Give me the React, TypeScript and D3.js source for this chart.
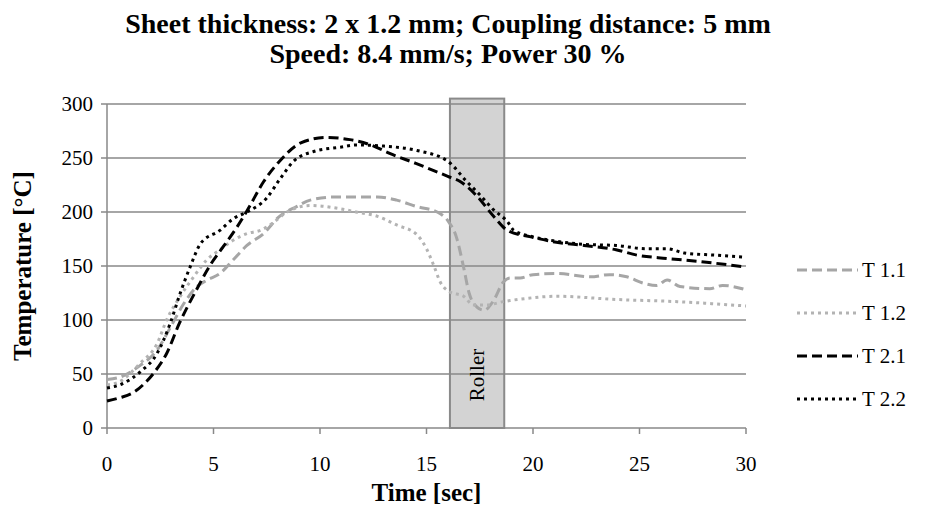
import React from 'react'
import * as d3 from 'd3'

// series: time [sec] and temperature [°C]
const t11 = [0, 0.6, 1.56, 2.35, 3, 3.6, 4.23, 4.7, 5.3, 5.94, 6.57, 7.35, 8.1, 8.9, 9.54, 10.8, 11.7, 12.7, 13.6, 14.55, 15.5, 16, 16.4, 16.74, 17, 17.37, 17.7, 18.15, 18.6, 18.93, 19.4, 20, 21.1, 22.7, 23.6, 24.4, 25.2, 25.8, 26.3, 26.9, 28.3, 28.9, 30]
const v11 = [45, 47, 58, 72, 94, 115, 131, 137, 143, 156, 169, 180, 196, 205, 211, 214, 214, 214, 211, 205, 200, 192, 177, 149, 125, 112, 109, 118, 135, 139, 139, 142, 143, 140, 142, 140, 134, 132, 137, 131, 129, 132, 128]

const t12 = [0, 0.5, 1.56, 2.35, 2.8, 3.44, 4.07, 4.7, 5.3, 5.94, 6.57, 7.2, 7.8, 8.45, 9.54, 10.95, 11.7, 12.7, 13.6, 14.55, 15, 15.33, 15.65, 16.1, 16.74, 17.2, 17.84, 18.6, 19.7, 21.1, 23.9, 26.75, 30]
const v12 = [40, 42, 60, 78, 100, 122, 140, 156, 165, 174, 180, 183, 190, 200, 206, 203, 200, 196, 188, 179, 166, 151, 135, 126, 122, 114, 114, 117, 120, 122, 119, 117, 113]

const t21 = [0, 0.6, 1.25, 1.8, 2.2, 2.8, 3.4, 4.2, 4.85, 5.5, 6.1, 6.6, 7.35, 8.1, 9.1, 10.3, 11.4, 12.4, 13.3, 14.5, 16, 16.6, 17.4, 18.15, 18.8, 19.9, 21.1, 22.4, 23.9, 24.9, 26.3, 27.9, 30]
const v21 = [25, 28, 33, 42, 51, 69, 97, 128, 151, 169, 186, 202, 228, 247, 264, 269, 267, 262, 254, 245, 233, 228, 214, 196, 183, 177, 172, 169, 165, 160, 157, 154, 149]

const t22 = [0, 0.6, 1.56, 2.35, 2.97, 3.44, 3.9, 4.4, 5.3, 5.94, 6.57, 7.5, 8.1, 8.76, 9.7, 10.95, 11.7, 13, 14.55, 16, 16.9, 17.5, 18.15, 18.8, 19.1, 20, 21.1, 22.4, 23.9, 25.3, 26.3, 27.1, 28.6, 30]
const v22 = [37, 40, 52, 69, 97, 125, 149, 171, 183, 194, 200, 213, 230, 247, 256, 260, 262, 261, 257, 247, 228, 216, 202, 191, 183, 177, 173, 170, 169, 166, 166, 162, 160, 158]

const seriesNames = ['T 1.1', 'T 1.2', 'T 2.1', 'T 2.2']
const xTicks = [0, 5, 10, 15, 20, 25, 30]
const yTicks = [0, 50, 100, 150, 200, 250, 300]

// roller zone
const rollerFrom = 16.1
const rollerTo = 18.65
const rollerTop = 305

const W = 927
const H = 512
const margin = {top: 104, right: 181, bottom: 84, left: 107}
const ff = {fontFamily: "'Liberation Serif'"}

export default function App() {
  const x = d3.scaleLinear().domain([0, 30]).range([margin.left, W - margin.right])
  const y = d3.scaleLinear().domain([0, 300]).range([H - margin.bottom, margin.top])

  const line = d3.line<[number, number]>()
    .x(d => x(d[0]))
    .y(d => y(d[1]))
    .curve(d3.curveMonotoneX)

  const zip = (t: number[], v: number[]) => t.map((tt, i) => [tt, v[i]] as [number, number])

  const series = [
    {name: seriesNames[0], pts: zip(t11, v11), color: '#a6a6a6', dash: '10 5'},
    {name: seriesNames[1], pts: zip(t12, v12), color: '#b3b3b3', dash: '3 4'},
    {name: seriesNames[2], pts: zip(t21, v21), color: '#000000', dash: '10 5'},
    {name: seriesNames[3], pts: zip(t22, v22), color: '#000000', dash: '3 4'},
  ]

  const gridColor = '#888888'
  const x0 = x(0), x1 = x(30)
  const yBase = y(0)

  return (
    <svg width={W} height={H} style={{position: 'absolute', left: 0, top: 0, background: '#fff'}}>
      {/* title */}
      <text x={448} y={33} textAnchor="middle" fontSize={28} fontWeight="bold" style={ff}>
        Sheet thickness: 2 x 1.2 mm; Coupling distance: 5 mm
      </text>
      <text x={448} y={63} textAnchor="middle" fontSize={28} fontWeight="bold" style={ff}>
        Speed: 8.4 mm/s; Power 30 %
      </text>

      {/* roller */}
      <rect x={x(rollerFrom)} y={y(rollerTop)} width={x(rollerTo) - x(rollerFrom)}
        height={yBase - y(rollerTop)} fill="#d3d3d3" stroke="#8a8a8a" strokeWidth={2} />

      {/* grid */}
      {yTicks.map(t => (
        <g key={'gy' + t}>
          <line x1={x0 - 6} x2={x1} y1={y(t)} y2={y(t)} stroke={gridColor} strokeWidth={1.5} />
          <text x={x0 - 14} y={y(t)} dy="0.35em" textAnchor="end" fontSize={21} style={ff}>{t}</text>
        </g>
      ))}
      <line x1={x0} x2={x0} y1={y(300)} y2={yBase} stroke={gridColor} strokeWidth={1.5} />
      {xTicks.map(t => (
        <g key={'gx' + t}>
          <line x1={x(t)} x2={x(t)} y1={yBase} y2={yBase + 6} stroke={gridColor} strokeWidth={1.5} />
          <text x={x(t)} y={yBase + 43} textAnchor="middle" fontSize={21} style={ff}>{t}</text>
        </g>
      ))}

      <text transform={`translate(${(x(rollerFrom) + x(rollerTo)) / 2 + 7},375) rotate(-90)`}
        textAnchor="middle" fontSize={21} style={ff}>Roller</text>

      {/* series */}
      {series.map(s => (
        <path key={s.name} d={line(s.pts) || ''} fill="none" stroke={s.color} strokeWidth={3}
          strokeDasharray={s.dash} />
      ))}

      {/* axis titles */}
      <text x={(x0 + x1) / 2} y={501} textAnchor="middle" fontSize={25} fontWeight="bold" style={ff}>Time [sec]</text>
      <text transform={`translate(31,${(y(0) + y(300)) / 2}) rotate(-90)`} textAnchor="middle"
        fontSize={25} fontWeight="bold" style={ff}>Temperature [°C]</text>

      {/* legend */}
      {series.map((s, i) => {
        const ly = 270 + i * 43
        return (
          <g key={'lg' + s.name}>
            <line x1={797} x2={858} y1={ly} y2={ly} stroke={s.color} strokeWidth={3}
              strokeDasharray={s.dash} />
            <text x={862} y={ly} dy="0.35em" fontSize={21} style={ff}>{s.name}</text>
          </g>
        )
      })}
    </svg>
  )
}
